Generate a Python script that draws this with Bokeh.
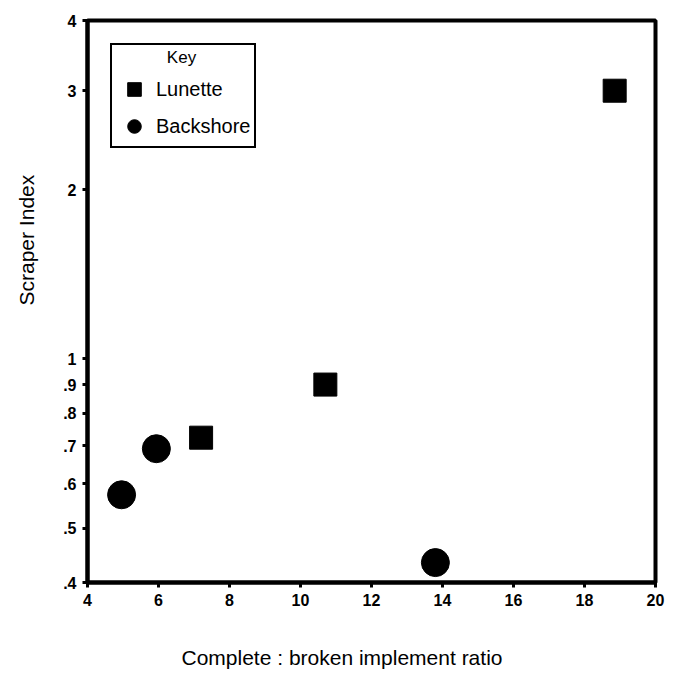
from bokeh.plotting import figure
from bokeh.models import Range1d, FixedTicker, Legend, LegendItem, Title, Label
from bokeh.embed import file_html
from bokeh.resources import INLINE

# ---- data ----
lunette_x = [7.2, 10.7, 18.85]
lunette_y = [0.724, 0.90, 3.0]
backshore_x = [4.96, 5.94, 13.8]
backshore_y = [0.573, 0.692, 0.434]

x_ticks = [4, 6, 8, 10, 12, 14, 16, 18, 20]
y_ticks = [0.4, 0.5, 0.6, 0.7, 0.8, 0.9, 1, 2, 3, 4]
y_tick_labels = [".4", ".5", ".6", ".7", ".8", ".9", "1", "2", "3", "4"]

FONT = "Liberation Sans"

p = figure(width=668, height=676, y_axis_type="log",
           x_range=Range1d(4, 20), y_range=Range1d(0.4, 4),
           output_backend="svg", toolbar_location=None,
           min_border_left=87, min_border_right=13,
           min_border_top=20, min_border_bottom=94)

p.background_fill_color = "white"
p.border_fill_color = "white"
p.outline_line_color = "black"
p.outline_line_alpha = 1
p.outline_line_width = 4
p.xgrid.visible = False
p.ygrid.visible = False

for ax in (p.xaxis[0], p.yaxis[0]):
    ax.axis_line_width = 4
    ax.axis_line_color = "black"
    ax.major_tick_line_width = 3
    ax.major_tick_line_color = "black"
    ax.major_tick_in = 0
    ax.major_tick_out = 5
    ax.minor_tick_line_color = None
    ax.major_label_text_font = FONT
    ax.major_label_text_font_style = "bold"
    ax.major_label_text_font_size = "16px"
    ax.major_label_text_color = "black"

p.xaxis[0].ticker = FixedTicker(ticks=x_ticks)
p.xaxis[0].major_label_standoff = 6
p.yaxis[0].ticker = FixedTicker(ticks=y_ticks)
p.yaxis[0].major_label_overrides = {t: l for t, l in zip(y_ticks, y_tick_labels)}
p.yaxis[0].major_label_standoff = 6

r_lun = p.scatter(lunette_x, lunette_y, marker="square", size=23,
                  fill_color="black", line_color="black")
r_back = p.scatter(backshore_x, backshore_y, marker="circle", size=28,
                   fill_color="black", line_color="black")

legend = Legend(items=[LegendItem(label="Lunette", renderers=[r_lun]),
                       LegendItem(label="Backshore", renderers=[r_back])],
                location="top_left", title=" ")
legend.margin = 23
legend.padding = 3
legend.spacing = 3
legend.glyph_width = 38
legend.glyph_height = 34
legend.label_standoff = 3
legend.label_text_font = FONT
legend.label_text_font_size = "20px"
legend.label_text_color = "black"
legend.title_text_font = FONT
legend.title_text_font_size = "17px"
legend.title_text_font_style = "normal"
legend.title_standoff = 4
legend.border_line_color = "black"
legend.border_line_alpha = 1
legend.border_line_width = 2
legend.background_fill_color = "white"
legend.background_fill_alpha = 0
p.add_layout(legend, "center")

key = Label(x=94, y=525, x_units="screen", y_units="screen", text="Key",
            text_align="center", text_baseline="middle",
            text_font=FONT, text_font_size="17px", text_color="black")
p.add_layout(key)

xt = Title(text="\nComplete : broken implement ratio", align="left", offset=94,
           standoff=0, text_font=FONT, text_font_size="21px",
           text_line_height=1.55, vertical_align="bottom",
           text_font_style="normal", text_color="black")
yt = Title(text="Scraper Index\n", align="left", offset=277,
           standoff=0, text_font=FONT, text_font_size="21px",
           text_line_height=1.0, vertical_align="bottom",
           text_font_style="normal", text_color="black")
p.add_layout(xt, "below")
p.add_layout(yt, "left")

open("out.html", "w").write(file_html(p, INLINE))
